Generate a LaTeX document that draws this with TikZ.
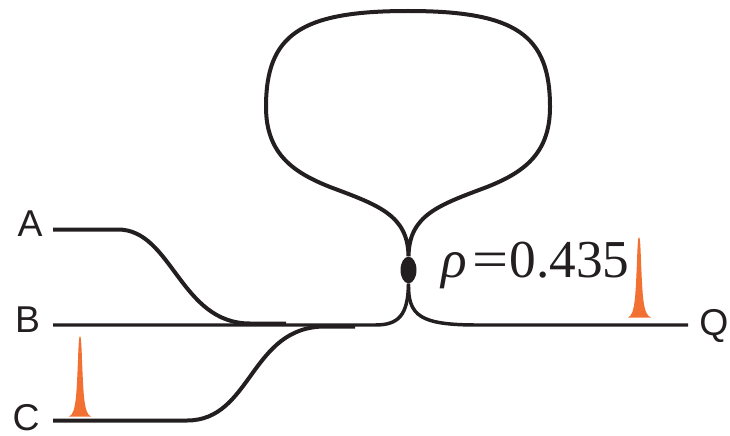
\documentclass[tikz,border=0pt]{standalone}
\usepackage{xcolor}
\usepackage{fontspec}
\setmainfont{Liberation Sans}
\newfontfamily\serifnum{Liberation Serif}
\usetikzlibrary{shapes.geometric}
\definecolor{pulseorange}{RGB}{241,112,50}
\definecolor{fiberblack}{RGB}{35,31,32}
\tikzset{
  fiber/.style={line width=3pt,color=fiberblack,line cap=butt},
  thinfiber/.style={line width=2.6pt,color=fiberblack,line cap=butt},
  port/.style={inner sep=0pt,scale=1,color=fiberblack,font=\fontsize{28}{28}\selectfont},
  pulse/.style={fill=pulseorange,draw=none},
}
\begin{document}
\begin{tikzpicture}[x=0.75pt,y=-0.75pt]
\useasboundingbox (0,0) rectangle (730,435);
\node[port] (A) at (30,224) {A};
\node[port] (B) at (27.5,320) {B};
\node[port] (C) at (26,417.5) {C};
\node[port] (Q) at (714,326) {Q};
\node[ellipse,fill=fiberblack,inner sep=0pt,minimum width=12pt,minimum height=20pt] (coupler) at (408.5,270) {};
\node[inner sep=0pt,anchor=base west,color=fiberblack,font=\fontsize{40}{40}\selectfont\serifnum] (rho) at (441,277) {\textit{ρ}\hspace{4pt}\scalebox{1.2}[1]{=}\hspace{1pt}0.435};
\coordinate (Aend) at (53,229.5);
\coordinate (Bend) at (53,325);
\coordinate (Cend) at (53,420.5);
\coordinate (Qend) at (688,325);
\coordinate (Atail) at (286,323.5);
\coordinate (Ctail) at (355,326.5);
\draw[fiber] (Aend)--(118,229.5) .. controls (172,229.5) and (180,323.5) .. (250,323.5)--(Atail);
\draw[thinfiber] (Bend)--(375,325) .. controls (398,325) and (408,316) .. (coupler.south);
\draw[fiber] (Cend)--(187,420.5) .. controls (252,420.5) and (250,326.5) .. (325,326.5)--(Ctail);
\draw[thinfiber] (coupler.south) .. controls (408,316) and (420,325) .. (478,325)--(Qend);
\draw[fiber] (coupler.north) .. controls (408,215) and (378,205) .. (330,187)
  .. controls (295,173) and (266,155) .. (266,107)
  .. controls (266,35) and (300,11) .. (408,11)
  .. controls (516,11) and (550,35) .. (550,107)
  .. controls (550,155) and (522,173) .. (487,187)
  .. controls (439,205) and (409,215) .. (coupler.north);
% pulses
\fill[pulse] (69,416.5) .. controls (76,414) and (76.5,395) .. (78,360) .. controls (78.5,345) and (79,336) .. (80,336)
  .. controls (81,336) and (81.5,345) .. (82,360) .. controls (83.5,395) and (84,414) .. (91,416.5)--cycle;
\fill[pulse] (628,317.5) .. controls (635,315) and (635.5,296) .. (637,261) .. controls (637.5,246) and (638,237) .. (639,237)
  .. controls (640,237) and (640.5,246) .. (641,261) .. controls (642.5,296) and (643,315) .. (651,317.5)--cycle;
\end{tikzpicture}
\end{document}
